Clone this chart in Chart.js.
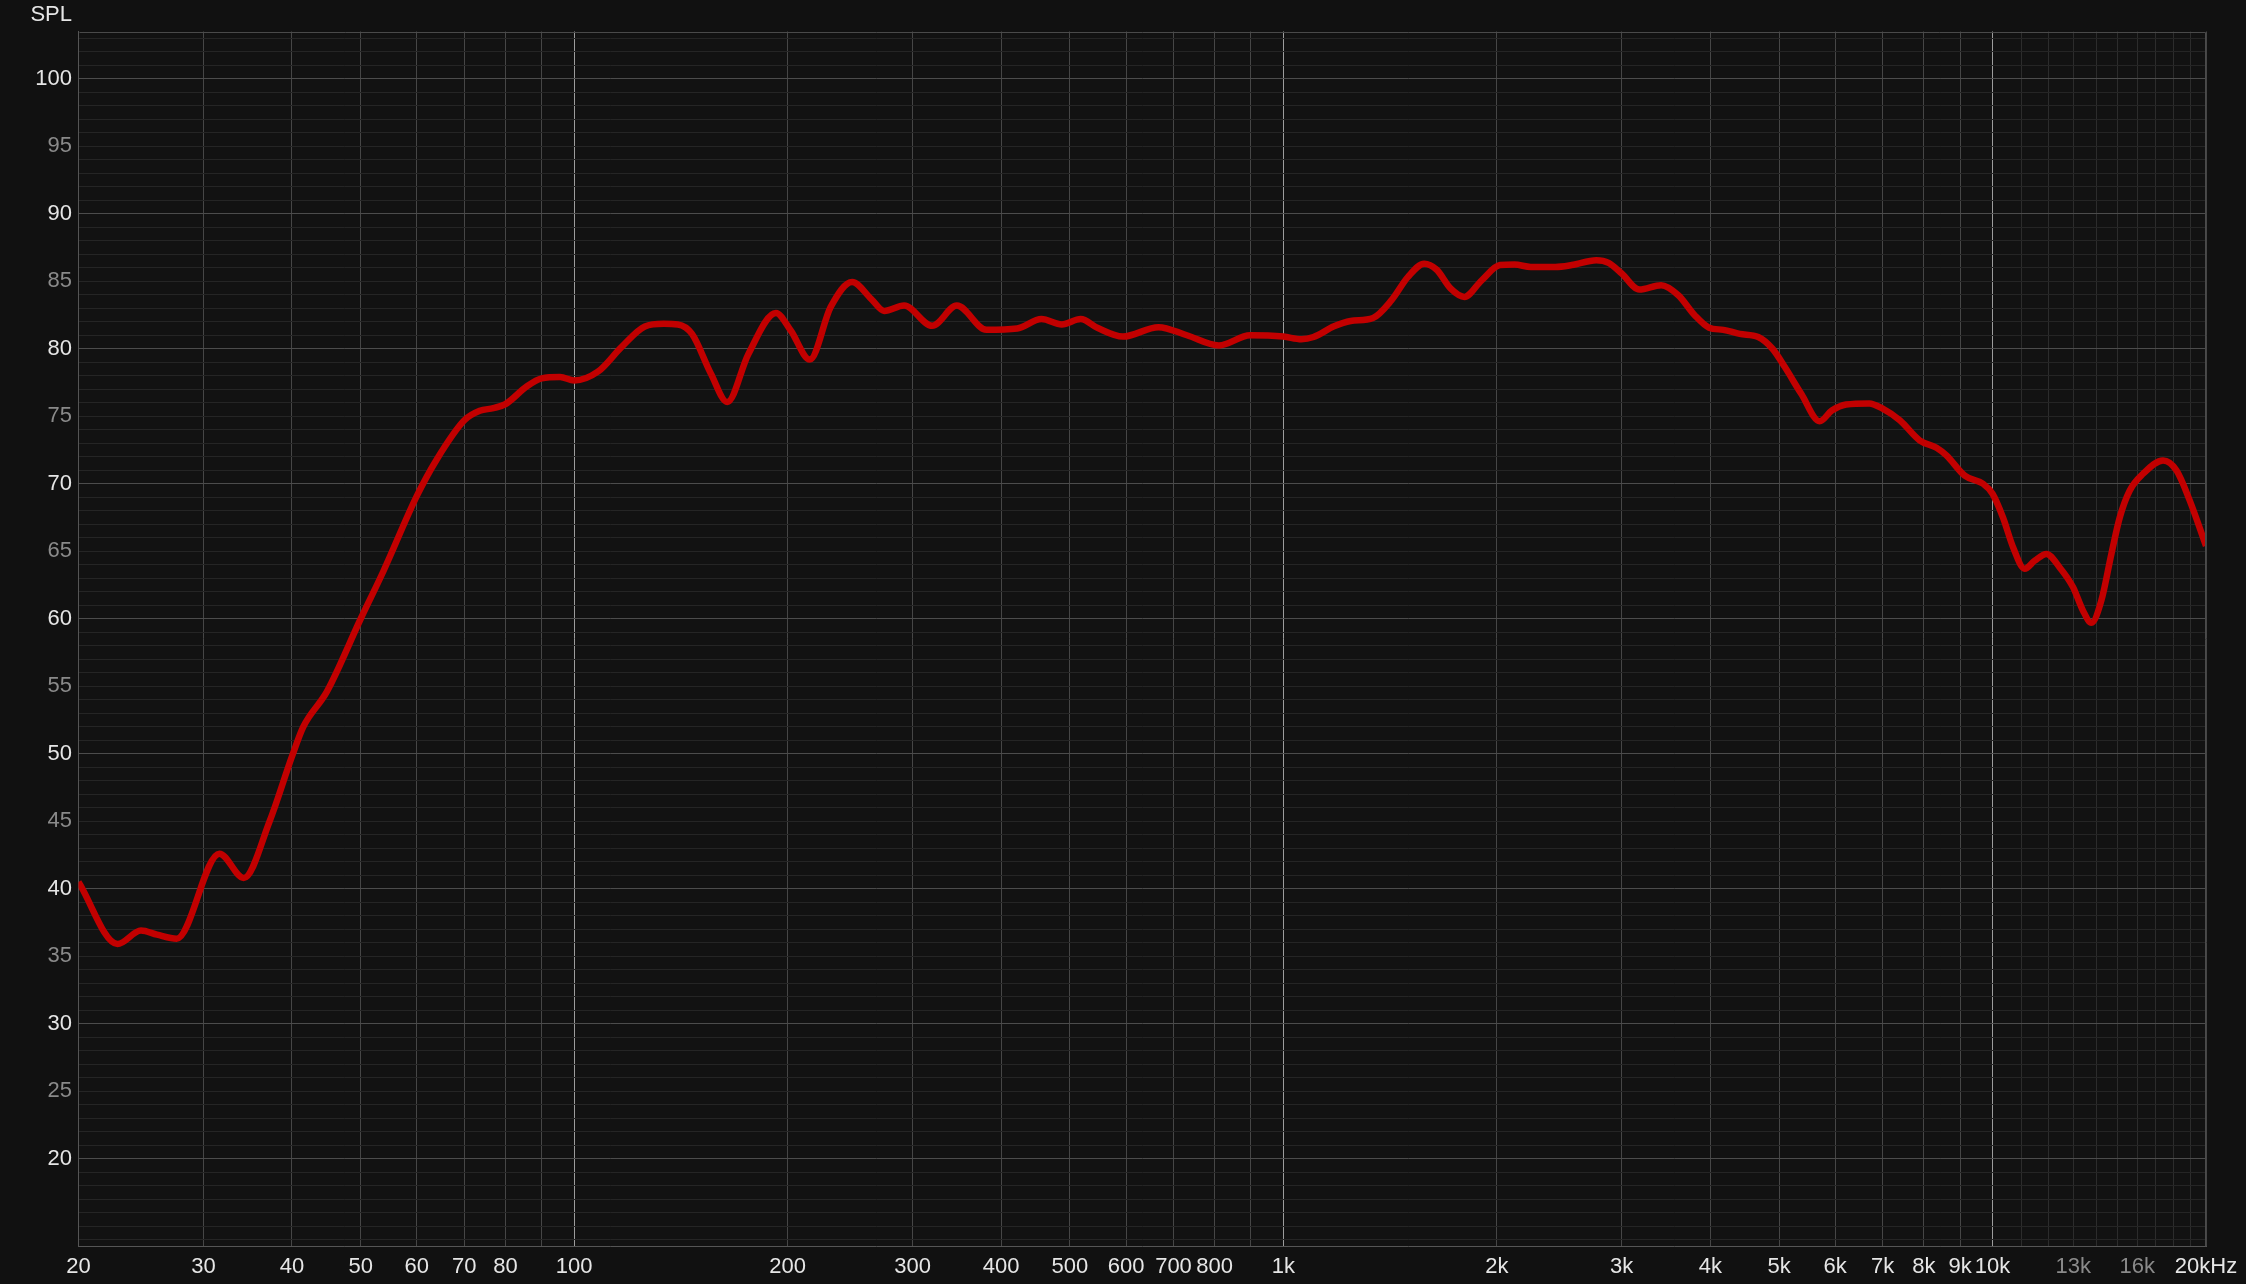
<!DOCTYPE html>
<html><head><meta charset="utf-8">
<script src="https://cdn.jsdelivr.net/npm/chart.js@4.4.1/dist/chart.umd.min.js"></script>
<style>
html,body{margin:0;padding:0;background:#111111;overflow:hidden;}
canvas{display:block;}
</style></head><body>
<canvas id="c" width="2246" height="1284"></canvas>
<script>
// ---- data ----
const freqs = [20, 22.7, 24.5, 25.8, 27.5, 31.6, 34.2, 37.2, 40, 41.5,
  44.8, 50, 53.8, 60, 64, 70, 73.6, 76.9, 80, 85.7,
  90, 95.5, 100, 108, 116.5, 125.8, 133.7, 140, 146.6, 155.9,
  164.4, 176, 192.5, 202, 214.9, 230, 246.6, 262.2, 273.6, 291.9,
  319.8, 346.4, 381.4, 421.3, 456, 487, 518, 546.6, 594, 666.8,
  731, 811, 898, 1000, 1060, 1103, 1179, 1244, 1338, 1421,
  1498, 1580, 1644, 1722, 1800, 1904, 2021, 2118, 2233, 2419,
  2551, 2763, 2875, 3000, 3177, 3409, 3605, 3802, 3984, 4173,
  4402, 4673, 4895, 5095, 5374, 5705, 5935, 6218, 6700, 7000,
  7400, 7898, 8337, 8610, 9137, 9697, 10000, 10346, 10690, 11102,
  11470, 11912, 12435, 12985, 13415, 13786, 14240, 14710, 15115, 15614,
  16304, 17396, 18167, 18967, 20000];
const spl = [40.5, 35.9, 36.9, 36.6, 36.3, 42.6, 40.8, 45.0, 49.8, 52.0,
  54.6, 60.0, 63.5, 69.1, 71.8, 74.7, 75.4, 75.6, 75.9, 77.2,
  77.8, 77.9, 77.65, 78.3, 80.1, 81.65, 81.85, 81.8, 81.1, 78.15,
  76.05, 79.6, 82.65, 81.35, 79.2, 83.1, 84.95, 83.7, 82.8, 83.2,
  81.7, 83.2, 81.4, 81.5, 82.2, 81.8, 82.2, 81.55, 80.9, 81.6,
  81.0, 80.25, 81.0, 80.9, 80.7, 80.87, 81.66, 82.05, 82.28, 83.6,
  85.3, 86.3, 85.87, 84.45, 83.84, 85.07, 86.2, 86.24, 86.06, 86.06,
  86.2, 86.56, 86.36, 85.57, 84.38, 84.7, 83.96, 82.48, 81.56, 81.4,
  81.1, 80.87, 80.0, 78.64, 76.66, 74.63, 75.42, 75.87, 75.95, 75.56,
  74.7, 73.2, 72.67, 72.1, 70.6, 70.0, 69.26, 67.5, 65.3, 63.7,
  64.3, 64.8, 63.8, 62.35, 60.6, 59.7, 61.36, 64.8, 67.5, 69.5,
  70.74, 71.73, 71.0, 68.77, 65.4];

const xTickValues = [20,30,40,50,60,70,80,90,100,200,300,400,500,600,700,800,900,
  1000,2000,3000,4000,5000,6000,7000,8000,9000,10000,
  11000,12000,13000,14000,15000,16000,17000,18000,19000,20000];
const xTickLabels = ['20','30','40','50','60','70','80','','100','200','300','400','500','600','700','800','',
  '1k','2k','3k','4k','5k','6k','7k','8k','9k','10k',
  '','','13k','','','16k','','','','20kHz'];
const xDimLabels = [13000, 16000];
const xMajorLines = [100, 1000, 10000];

const yMin = 13.5, yMax = 103.5;
const yTickValues = [];
for (let v = 14; v <= 103; v++) yTickValues.push(v);
const yLabelValues = [20,25,30,35,40,45,50,55,60,65,70,75,80,85,90,95,100];
const yAxisTitle = 'SPL';

// ---- chart ----
const FONT = {family: '"Liberation Sans", Arial, sans-serif', size: 22};

const bgPlugin = {
  id: 'bg',
  beforeDraw(chart) {
    const {ctx, chartArea: a} = chart;
    ctx.save();
    ctx.fillStyle = '#111111';
    ctx.fillRect(0, 0, chart.width, chart.height);
    ctx.fillStyle = '#121212';
    ctx.fillRect(a.left, a.top, a.right - a.left, a.bottom - a.top);
    ctx.restore();
  },
  afterDraw(chart) {
    const {ctx, chartArea: a} = chart;
    ctx.save();
    ctx.strokeStyle = '#4a4a4a';
    ctx.lineWidth = 1;
    ctx.beginPath();
    ctx.moveTo(Math.round(a.left) + 0.5, Math.round(a.top) + 0.5);
    ctx.lineTo(Math.round(a.right) - 0.5, Math.round(a.top) + 0.5);
    ctx.lineTo(Math.round(a.right) - 0.5, Math.round(a.bottom) - 0.5);
    ctx.stroke();
    ctx.fillStyle = '#e6e6e6';
    ctx.font = '22px "Liberation Sans", Arial, sans-serif';
    ctx.textAlign = 'right';
    ctx.textBaseline = 'alphabetic';
    ctx.fillText(yAxisTitle, 72, 21);
    ctx.restore();
  }
};

new Chart(document.getElementById('c'), {
  type: 'line',
  data: {
    datasets: [{
      data: freqs.map((f, i) => ({x: f, y: spl[i]})),
      borderColor: '#c20000',
      borderWidth: 6.5,
      pointRadius: 0,
      cubicInterpolationMode: 'monotone',
      fill: false
    }]
  },
  options: {
    responsive: false,
    animation: false,
    devicePixelRatio: 1,
    layout: {padding: {left: 0, top: 31.5, right: 40, bottom: 0}},
    plugins: {legend: {display: false}, tooltip: {enabled: false}},
    scales: {
      x: {
        type: 'logarithmic',
        min: 20, max: 20000,
        afterBuildTicks(scale) { scale.ticks = xTickValues.map(v => ({value: v})); },
        afterFit(scale) { scale.height = 37.5; },
        grid: {
          drawTicks: false,
          lineWidth: 1,
          color(ctx) {
            const v = ctx.tick ? ctx.tick.value : 0;
            if (xMajorLines.includes(v)) return '#9c9c9c';
            if (v > 10000 && v < 20000) return '#2c2c2c';
            return '#464646';
          }
        },
        border: {color: '#555555', width: 1},
        ticks: {
          autoSkip: false,
          maxRotation: 0,
          minRotation: 0,
          padding: 7,
          font: FONT,
          color(ctx) {
            const v = ctx.tick ? ctx.tick.value : 0;
            return xDimLabels.includes(v) ? '#8a8a8a' : '#e6e6e6';
          },
          callback(value) {
            const i = xTickValues.indexOf(value);
            return i >= 0 ? xTickLabels[i] : '';
          }
        }
      },
      y: {
        type: 'linear',
        min: yMin, max: yMax,
        afterBuildTicks(scale) { scale.ticks = yTickValues.map(v => ({value: v})); },
        afterFit(scale) { scale.width = 78.5; },
        grid: {
          drawTicks: false,
          lineWidth: 1,
          color(ctx) {
            const v = ctx.tick ? ctx.tick.value : 0;
            return v % 10 === 0 ? '#4c4c4c' : '#252525';
          }
        },
        border: {color: '#555555', width: 1},
        ticks: {
          autoSkip: false,
          padding: 6.5,
          font: FONT,
          color(ctx) {
            const v = ctx.tick ? ctx.tick.value : 0;
            return v % 10 === 0 ? '#e6e6e6' : '#8a8a8a';
          },
          callback(value) {
            return yLabelValues.includes(value) ? String(value) : '';
          }
        }
      }
    }
  },
  plugins: [bgPlugin]
});
</script>
</body></html>
